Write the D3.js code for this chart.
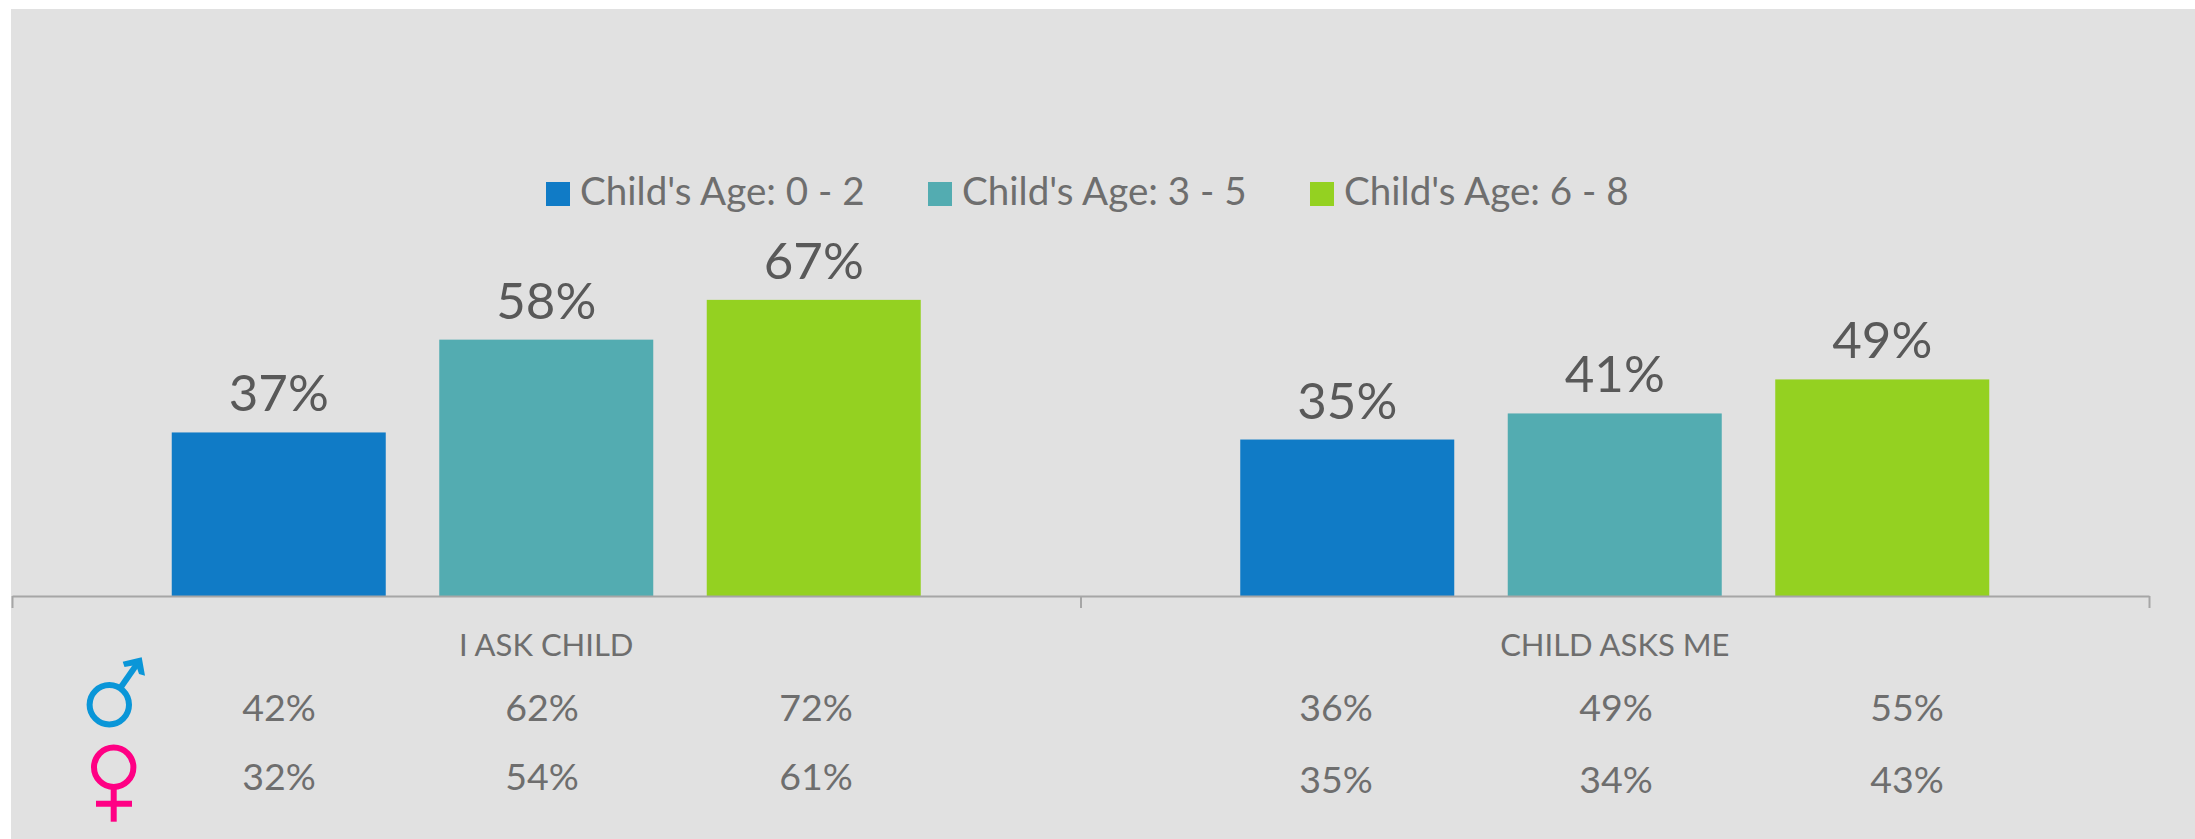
<!DOCTYPE html>
<html><head><meta charset="utf-8">
<script src="https://cdn.jsdelivr.net/npm/d3@7"></script>
<style>html,body{margin:0;padding:0;background:#fff;overflow:hidden}svg{display:block}text{font-family:Lato,"Open Sans",sans-serif}</style>
</head><body><svg id="c" width="2195" height="839"></svg>
<script>
const categories = ["I ASK CHILD", "CHILD ASKS ME"];
const seriesNames = ["Child's Age: 0 - 2", "Child's Age: 3 - 5", "Child's Age: 6 - 8"];
const age0to2 = [37, 35.4];
const age3to5 = [58, 41.3];
const age6to8 = [67, 49];
const maleValues = [[42, 62, 72], [36, 49, 55]];
const femaleValues = [[32, 54, 61], [35, 34, 43]];
const colors = ["#107BC6", "#53ACB1", "#94D121"];

const seriesValues = [age0to2, age3to5, age6to8];
const pct = v => Math.round(v) + "%";
const svg = d3.select("#c");
svg.append("rect").attr("x", 11).attr("y", 9).attr("width", 2184).attr("height", 830).attr("fill", "#E1E1E1");

const baseY = 596, left = 12, right = 2149;
const x0 = d3.scaleBand().domain(categories).range([left, right]);
const x1 = d3.scaleBand().domain(seriesNames).range([-374.5, 374.5]).paddingInner(0.2);
const y = d3.scaleLinear().domain([0, 100]).range([baseY, baseY - 442]);

categories.forEach((cat, ci) => {
  const cx = x0(cat) + x0.bandwidth() / 2;
  seriesNames.forEach((s, si) => {
    const v = seriesValues[si][ci];
    svg.append("rect").attr("x", cx + x1(s)).attr("y", y(v))
      .attr("width", x1.bandwidth()).attr("height", baseY - y(v)).attr("fill", colors[si]);
    svg.append("text").attr("x", cx + x1(s) + x1.bandwidth() / 2).attr("y", y(v) - 21)
      .attr("text-anchor", "middle").attr("font-size", 51).attr("fill", "#595959").text(pct(v));
  });
  svg.append("text").attr("x", cx).attr("y", 656).attr("text-anchor", "middle")
    .attr("font-size", 31).attr("fill", "#6E6E6E").text(cat);
});

// axis with ticks at the category boundaries
const edge = d3.scaleLinear().domain([0, categories.length]).range([left, right]);
const axis = svg.append("g").attr("transform", `translate(0,${baseY})`)
  .call(d3.axisBottom(edge).tickValues([0, 1, 2]).tickFormat("").tickSize(12).tickSizeOuter(0));
axis.selectAll("path,line").attr("stroke", "#A6A6A6").attr("stroke-width", 2);

// legend
const legendSwatch = [546, 928, 1310];
seriesNames.forEach((s, i) => {
  svg.append("rect").attr("x", legendSwatch[i]).attr("y", 182).attr("width", 24).attr("height", 24).attr("fill", colors[i]);
  svg.append("text").attr("x", legendSwatch[i] + 34).attr("y", 205).attr("font-size", 38.6).attr("fill", "#6E6E6E").text(s);
});

// gender table
const tableX = [[279, 542, 816], [1336, 1616, 1907]];
const rowY = [[721, 790], [721, 793]];
categories.forEach((cat, ci) => {
  [maleValues, femaleValues].forEach((rows, ri) => {
    rows[ci].forEach((v, i) => {
      svg.append("text").attr("x", tableX[ci][i]).attr("y", rowY[ci][ri]).attr("text-anchor", "middle")
        .attr("font-size", 37.5).attr("fill", "#6E6E6E").text(pct(v));
    });
  });
});

// gender symbols
const maleColor = "#0A96D8", femaleColor = "#FF0084";
const male = svg.append("g").attr("fill", "none").attr("stroke", maleColor).attr("stroke-width", 6);
male.append("circle").attr("cx", 109.3).attr("cy", 704.7).attr("r", 19.7);
male.append("line").attr("x1", 121).attr("y1", 687).attr("x2", 137).attr("y2", 664);
svg.append("path").attr("d", "M122.7 661.7 L141.7 657.3 L145 675.7 L139 674 L136 665 L124.5 667 Z").attr("fill", maleColor);
const female = svg.append("g").attr("fill", "none").attr("stroke", femaleColor).attr("stroke-width", 6);
female.append("circle").attr("cx", 113.7).attr("cy", 767.3).attr("r", 19.7);
female.append("line").attr("x1", 113.7).attr("y1", 788).attr("x2", 113.7).attr("y2", 821.7);
female.append("line").attr("x1", 96).attr("y1", 803.7).attr("x2", 132).attr("y2", 803.7);
</script></body></html>
